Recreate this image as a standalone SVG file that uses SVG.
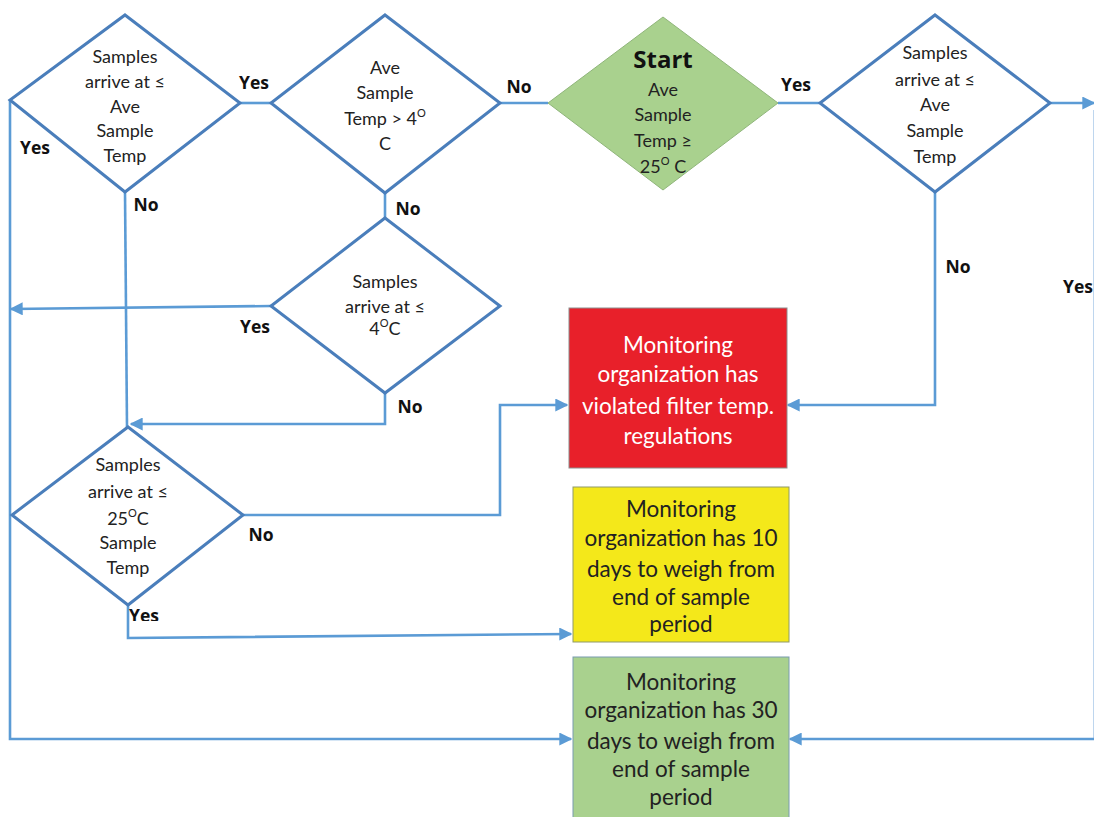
<svg xmlns="http://www.w3.org/2000/svg" width="1094" height="817" viewBox="0 0 1094 817">
<style>
.dia{fill:#ffffff;stroke:#4a7ebb;stroke-width:3;stroke-linejoin:miter}
.start{fill:#a9d18e;stroke:#8fb57a;stroke-width:1}
.con{fill:none;stroke:#5b9bd5;stroke-width:2.6}
.dt{font-family:Lato,"Open Sans",sans-serif;font-size:18px;fill:#222;text-anchor:middle}
.bt{font-family:Lato,"Open Sans",sans-serif;font-size:22.5px;text-anchor:middle}
.lab{font-family:"Open Sans",Lato,sans-serif;font-size:17.5px;font-weight:bold;fill:#111;text-anchor:middle}
.sup{font-size:11px}
</style>
<defs>
<marker id="arr" viewBox="0 0 10 10" refX="9" refY="5" markerWidth="13" markerHeight="13" markerUnits="userSpaceOnUse" orient="auto">
<path d="M0,0 L10,5 L0,10 z" fill="#5b9bd5"/>
</marker>
<clipPath id="yclip"><rect x="100" y="590" width="100" height="31"/></clipPath>
</defs>
<rect width="1094" height="817" fill="#ffffff"/>

<g id="connectors">
<path class="con" d="M240,103 H271"/>
<path class="con" d="M500,103 H548"/>
<path class="con" d="M778,103 H820"/>
<path class="con" d="M1050,103 H1094" marker-end="url(#arr)"/>
<path class="con" d="M935,192 V405 H788" marker-end="url(#arr)"/>
<path d="M1094,110 V739" fill="none" stroke="#a8c8e8" stroke-width="1.5"/>
<path class="con" d="M1094,739 H790" marker-end="url(#arr)"/>
<path class="con" d="M10,100 V739 H571" marker-end="url(#arr)"/>
<path class="con" d="M125,192 L127,427"/>
<path class="con" d="M385,193 V218"/>
<path class="con" d="M271,306 L11,309" marker-end="url(#arr)"/>
<path class="con" d="M385,393 V424 H131" marker-end="url(#arr)"/>
<path class="con" d="M243,515 H500 V405 H567" marker-end="url(#arr)"/>
<path class="con" d="M128,605 V638 L571,634" marker-end="url(#arr)"/>
</g>

<g id="d1">
<polygon class="dia" points="125,15 240,103 125,192 10,100"/>
<text class="dt" x="125" y="63">Samples</text>
<text class="dt" x="125" y="88">arrive at ≤</text>
<text class="dt" x="125" y="113">Ave</text>
<text class="dt" x="125" y="137">Sample</text>
<text class="dt" x="125" y="162">Temp</text>
</g>

<g id="d2">
<polygon class="dia" points="385,15 500,103 385,193 271,103"/>
<text class="dt" x="385" y="74">Ave</text>
<text class="dt" x="385" y="99">Sample</text>
<text class="dt" x="385" y="125">Temp &gt; 4<tspan class="sup" dy="-8">O</tspan></text>
<text class="dt" x="385" y="150">C</text>
</g>

<g id="start">
<polygon class="start" points="663,17 778,103 663,190 548,103"/>
<text x="663" y="68" style="font-family:'Open Sans',Lato,sans-serif;font-size:24px;font-weight:bold;fill:#111;text-anchor:middle">Start</text>
<text class="dt" x="663" y="96">Ave</text>
<text class="dt" x="663" y="121">Sample</text>
<text class="dt" x="663" y="147">Temp ≥</text>
<text class="dt" x="663" y="173">25<tspan class="sup" dy="-8">O</tspan><tspan dy="8"> C</tspan></text>
</g>

<g id="d3">
<polygon class="dia" points="935,15 1050,103 935,192 820,103"/>
<text class="dt" x="935" y="59">Samples</text>
<text class="dt" x="935" y="86">arrive at ≤</text>
<text class="dt" x="935" y="111">Ave</text>
<text class="dt" x="935" y="137">Sample</text>
<text class="dt" x="935" y="163">Temp</text>
</g>

<g id="d4">
<polygon class="dia" points="385,218 500,306 385,393 271,306"/>
<text class="dt" x="385" y="288">Samples</text>
<text class="dt" x="385" y="313">arrive at ≤</text>
<text class="dt" x="385" y="335">4<tspan class="sup" dy="-8">O</tspan><tspan dy="8">C</tspan></text>
</g>

<g id="d5">
<polygon class="dia" points="128,427 243,515 128,605 12,515"/>
<text class="dt" x="128" y="471">Samples</text>
<text class="dt" x="128" y="498">arrive at ≤</text>
<text class="dt" x="128" y="525">25<tspan class="sup" dy="-8">O</tspan><tspan dy="8">C</tspan></text>
<text class="dt" x="128" y="549">Sample</text>
<text class="dt" x="128" y="574">Temp</text>
</g>

<g id="red">
<rect x="569" y="308" width="218" height="160" fill="#e8202a" stroke="#8d8d8d" stroke-width="1"/>
<text class="bt" x="678" y="353" fill="#ffffff">Monitoring</text>
<text class="bt" x="678" y="382" fill="#ffffff">organization has</text>
<text class="bt" x="678" y="414" fill="#ffffff">violated filter temp.</text>
<text class="bt" x="678" y="444" fill="#ffffff">regulations</text>
</g>

<g id="yellow">
<rect x="573" y="487" width="216" height="155" fill="#f4e81a" stroke="#8f9a6a" stroke-width="1"/>
<text class="bt" x="681" y="517" fill="#222">Monitoring</text>
<text class="bt" x="681" y="546" fill="#222">organization has 10</text>
<text class="bt" x="681" y="577" fill="#222">days to weigh from</text>
<text class="bt" x="681" y="605" fill="#222">end of sample</text>
<text class="bt" x="681" y="632" fill="#222">period</text>
</g>

<g id="green">
<rect x="573" y="657" width="216" height="170" fill="#a9d18e" stroke="#7a9cb0" stroke-width="1"/>
<text class="bt" x="681" y="690" fill="#222">Monitoring</text>
<text class="bt" x="681" y="718" fill="#222">organization has 30</text>
<text class="bt" x="681" y="749" fill="#222">days to weigh from</text>
<text class="bt" x="681" y="777" fill="#222">end of sample</text>
<text class="bt" x="681" y="805" fill="#222">period</text>
</g>

<g id="labels">
<text class="lab" x="254" y="89">Yes</text>
<text class="lab" x="35" y="154">Yes</text>
<text class="lab" x="146" y="211">No</text>
<text class="lab" x="519" y="93">No</text>
<text class="lab" x="408" y="215">No</text>
<text class="lab" x="796" y="91">Yes</text>
<text class="lab" x="958" y="273">No</text>
<text class="lab" x="1078" y="293">Yes</text>
<text class="lab" x="255" y="333">Yes</text>
<text class="lab" x="410" y="413">No</text>
<text class="lab" x="261" y="541">No</text>
<text class="lab" x="144" y="622" clip-path="url(#yclip)">Yes</text>
</g>
</svg>
